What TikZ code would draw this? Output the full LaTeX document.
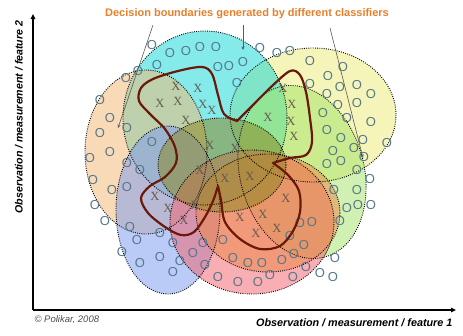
\documentclass[tikz,border=0pt]{standalone}
\usepackage{fontspec}
\setmainfont{Liberation Sans}
\newfontfamily\serifx{Liberation Serif}
\usetikzlibrary{arrows.meta}
\definecolor{yelc}{RGB}{238,236,120}
\definecolor{cyac}{RGB}{20,215,215}
\definecolor{grnc}{RGB}{165,228,105}
\definecolor{peac}{RGB}{244,185,115}
\definecolor{bluc}{RGB}{125,155,240}
\definecolor{pinc}{RGB}{242,100,110}
\definecolor{orac}{RGB}{236,135,70}
\definecolor{olic}{RGB}{140,135,35}
\definecolor{ocol}{RGB}{85,120,140}
\definecolor{xcol}{RGB}{100,90,80}
\definecolor{bcol}{RGB}{105,25,10}
\definecolor{tcol}{RGB}{230,128,45}
\tikzset{
  ellfill/.style={fill opacity=0.52},
  elldraw/.style={draw=black, line width=0.9pt, dash pattern=on 0.9pt off 1.3pt},
  ob/.style={text=ocol, font=\fontsize{13}{13}\selectfont, inner sep=0pt},
  xb/.style={text=xcol, font=\serifx\fontsize{12.5}{12.5}\selectfont, inner sep=0pt},
  bnd/.style={draw=bcol, line width=2.2pt, line join=round, line cap=round},
  ptr/.style={draw=black!65, line width=0.6pt, -{Stealth[length=3.5pt,width=3pt]}},
  axis/.style={draw=black, line width=1.3pt, -{Triangle[length=5pt,width=4.5pt]}},
}
\begin{document}
\begin{tikzpicture}[x=1pt,y=-1pt]
\useasboundingbox (0,0) rectangle (463,335);
% ellipse fills
\foreach \cx/\cy/\rx/\ry/\rot/\col in {
  313/115/83/67/0/yelc,
  205/118/82/87/0/cyac,
  302/172/62/88/15/grnc,
  146/152/61/82/0/peac,
  168/210/52/84/0/bluc,
  252/222/82/72/0/pinc,
  268/213/72/59/0/orac,
  222/165/64/47/0/olic}
  \fill[\col, ellfill, rotate around={\rot:(\cx,\cy)}] (\cx,\cy) ellipse [x radius=\rx, y radius=\ry];
% ellipse borders
\foreach \cx/\cy/\rx/\ry/\rot in {
  313/115/83/67/0, 205/118/82/87/0, 302/172/62/88/15, 146/152/61/82/0,
  168/210/52/84/0, 252/222/82/72/0, 268/213/72/59/0, 222/165/64/47/0}
  \draw[elldraw, rotate around={\rot:(\cx,\cy)}] (\cx,\cy) ellipse [x radius=\rx, y radius=\ry];
% O samples
\foreach \x/\y [count=\i] in {
  152/45, 170/53, 186/51, 200/47, 216/47, 157/65, 218/67, 229/66, 243/62, 260/48, 277/53, 290/51,
  237/83, 138/71, 126/78,
  310/61, 343/67, 328/76, 310/84, 340/87, 357/85, 371/94, 327/94, 338/105, 357/103, 371/122,
  347/118, 323/113, 327/130, 363/140, 341/138, 387/143, 354/148, 333/151, 341/161, 327/164, 364/157,
  357/170, 370/179, 334/190, 357/190, 347/208, 358/205, 371/205, 340/221, 312/222, 300/223,
  290/236, 304/245, 335/258, 282/260, 294/254, 320/273, 333/277,
  100/100, 110/118, 127/128, 100/133, 110/152, 90/158, 127/163, 140/170, 93/180, 112/190,
  127/187, 95/205, 105/221, 130/227, 152/142,
  137/240, 160/233, 122/252, 140/263, 160/257, 173/243, 193/253, 180/261, 173/272,
  205/265, 218/277, 238/282, 258/282, 270/275, 293/277, 306/267, 262/263, 233/258, 248/263,
  223/240, 203/243}
  \node[ob] (o\i) at (\x,\y) {O};
% X samples
\foreach \x/\y [count=\i] in {
  160/103, 178/101, 203/104, 176/86, 198/88, 212/110, 186/120,
  283/88, 292/104, 291/121, 294/136, 268/117,
  210/145, 235/148, 250/176, 225/178, 200/170,
  155/196, 168/208, 184/220, 195/205,
  263/214, 256/233, 240/217, 286/198, 277/228}
  \node[xb] (x\i) at (\x,\y) {X};
% decision boundary of the ensemble
\draw[bnd]
  plot[smooth, tension=0.55] coordinates {(237,121) (224,114) (218,95) (212,74) (202,67) (178,71) (153,79) (141,88) (139,101) (150,114) (165,129) (175,147) (176,163) (165,177) (150,186) (141,198) (148,213) (165,227) (181,235) (194,232) (205,217) (213,201) (218,186)}
  -- plot[smooth, tension=0.55] coordinates {(218,186) (221,200) (225,222) (240,239) (260,249) (280,246) (293,231) (300,212) (299,191) (288,175) (273,163)}
  -- plot[smooth, tension=0.55] coordinates {(273,163) (290,158) (306,155) (312,142) (310,118) (306,92) (300,75) (290,71) (271,87) (252,106) (237,121)}
  -- cycle;
% axes
\coordinate (origin) at (33,310);
\coordinate (ytop) at (33,14);
\coordinate (xend) at (456,310);
\draw[axis] (origin) -- (ytop);
\draw[axis] (origin) -- (xend);
\node[rotate=90, font=\bfseries\itshape\fontsize{10.6}{12}\selectfont] (ylab) at (19,117) {Observation / measurement / feature 2};
\node[font=\bfseries\itshape\fontsize{10.8}{12}\selectfont, anchor=east] (xlab) at (456,323) {Observation / measurement / feature 1};
\node[font=\itshape\fontsize{9.5}{10}\selectfont, text=black!70, anchor=west] (copy) at (31,320) {\textcopyright\ Polikar, 2008};
% title and pointers
\node[font=\bfseries\fontsize{11}{12}\selectfont, text=tcol] (title) at (247,14) {Decision boundaries generated by different classifiers};
\coordinate (s1) at (153,25);
\coordinate (e1) at (118,128);
\coordinate (s2) at (243,25);
\coordinate (e2) at (243,50);
\coordinate (s3) at (330,28);
\coordinate (e3) at (363,158);
\draw[ptr] (s1) -- (e1);
\draw[ptr] (s2) -- (e2);
\draw[ptr] (s3) -- (e3);
\end{tikzpicture}
\end{document}
